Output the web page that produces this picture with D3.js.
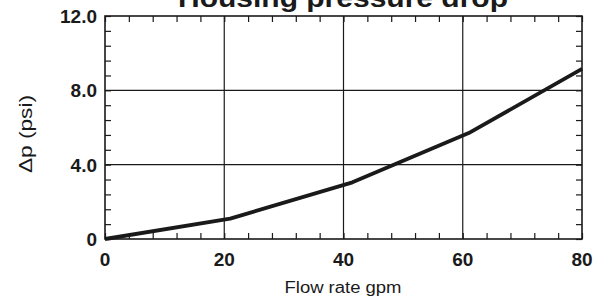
<!DOCTYPE html>
<html><head><meta charset="utf-8">
<script src="https://cdn.jsdelivr.net/npm/d3@7"></script>
<style>body{margin:0;background:#fff}svg{display:block}</style>
</head><body>
<script>
const flow = [0, 21, 41.5, 61, 80];
const dp = [0, 1.1, 3.05, 5.7, 9.15];
const xTicks = [0, 20, 40, 60, 80];
const yTicks = [0, 4, 8, 12];
const yTickLabels = ["0", "4.0", "8.0", "12.0"];
const title = "Housing pressure drop";
const xTitle = "Flow rate gpm";
const yTitle = "\u0394p (psi)";

const W = 604, H = 299;
const m = {l: 105, r: 22, t: 16, b: 60};
const svg = d3.select("body").append("svg").attr("width", W).attr("height", H);
const x = d3.scaleLinear().domain([0, 80]).range([m.l, W - m.r]);
const y = d3.scaleLinear().domain([0, 12]).range([H - m.b, m.t]);
const font = "'Liberation Sans', Arial, sans-serif";
const c = "#1a1a1a";

// grid
const g = svg.append("g");
g.selectAll(".gx").data(xTicks.slice(1, -1)).join("line")
  .attr("x1", d => x(d)).attr("x2", d => x(d)).attr("y1", y(0)).attr("y2", y(12))
  .attr("stroke", c).attr("stroke-width", 1.2);
g.selectAll(".gy").data(yTicks.slice(1, -1)).join("line")
  .attr("y1", d => y(d)).attr("y2", d => y(d)).attr("x1", x(0)).attr("x2", x(80))
  .attr("stroke", c).attr("stroke-width", 1.2);

// minor ticks inward on all sides
const xMinor = d3.range(0, 80.01, 4);
const yMinor = d3.range(0, 12.01, 0.8);
const tl = 6;
const axB = d3.axisBottom(x).tickValues(xMinor).tickSize(-tl).tickFormat("");
const axT = d3.axisTop(x).tickValues(xMinor).tickSize(-tl).tickFormat("");
const axL = d3.axisLeft(y).tickValues(yMinor).tickSize(-tl).tickFormat("");
const axR = d3.axisRight(y).tickValues(yMinor).tickSize(-tl).tickFormat("");
[[axB, `translate(0,${y(0)})`], [axT, `translate(0,${y(12)})`], [axL, `translate(${x(0)},0)`], [axR, `translate(${x(80)},0)`]]
  .forEach(([a, t]) => {
    const s = svg.append("g").attr("transform", t).call(a);
    s.select(".domain").remove();
    s.selectAll("line").attr("stroke", c).attr("stroke-width", 1.2);
  });

// frame
svg.append("rect").attr("x", x(0)).attr("y", y(12)).attr("width", x(80) - x(0)).attr("height", y(0) - y(12))
  .attr("fill", "none").attr("stroke", c).attr("stroke-width", 1.6);

// tick labels
svg.selectAll(".xl").data(xTicks).join("text")
  .attr("x", d => x(d)).attr("y", y(0) + 27).attr("text-anchor", "middle")
  .attr("font-family", font).attr("font-weight", "bold").attr("font-size", 19).attr("fill", c)
  .text(d => d);
svg.selectAll(".yl").data(yTicks).join("text")
  .attr("x", x(0) - 8).attr("y", d => y(d)).attr("dy", "0.36em").attr("text-anchor", "end")
  .attr("font-family", font).attr("font-weight", "bold").attr("font-size", 19).attr("fill", c)
  .text((d, i) => yTickLabels[i]);

// titles
svg.append("text").attr("x", 343).attr("y", 7).attr("text-anchor", "middle")
  .attr("textLength", 330).attr("lengthAdjust", "spacingAndGlyphs")
  .attr("font-family", font).attr("font-weight", "bold").attr("font-size", 25).attr("fill", c).text(title);
svg.append("text").attr("x", 343).attr("y", 293).attr("text-anchor", "middle")
  .attr("textLength", 117).attr("lengthAdjust", "spacingAndGlyphs")
  .attr("font-family", font).attr("font-size", 16).attr("fill", c).text(xTitle);
svg.append("text").attr("transform", "translate(32,134) rotate(-90)").attr("text-anchor", "middle")
  .attr("textLength", 78).attr("lengthAdjust", "spacingAndGlyphs")
  .attr("font-family", font).attr("font-size", 19).attr("fill", c).text(yTitle);

// line
const pts = flow.map((f, i) => [f, dp[i]]);
svg.append("path").datum(pts)
  .attr("d", d3.line().x(d => x(d[0])).y(d => y(d[1])))
  .attr("fill", "none").attr("stroke", c).attr("stroke-width", 3.8).attr("stroke-linejoin", "round");
</script>
</body></html>
